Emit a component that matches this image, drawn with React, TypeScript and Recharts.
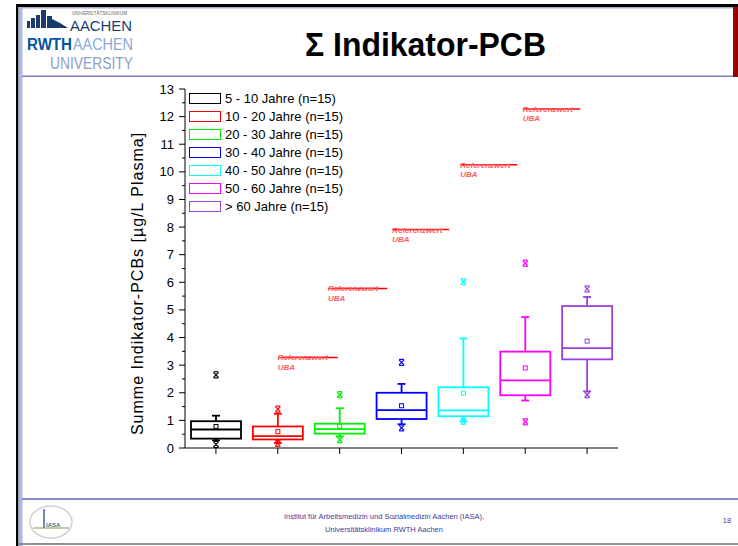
import React from "react";
import { ComposedChart, Bar, XAxis, YAxis, ReferenceLine, Legend } from "recharts";

// age groups, colours and box statistics (µg/L plasma)
const groups = [
  "5 - 10 Jahre (n=15)",
  "10 - 20 Jahre (n=15)",
  "20 - 30 Jahre (n=15)",
  "30 - 40 Jahre (n=15)",
  "40 - 50 Jahre (n=15)",
  "50 - 60 Jahre (n=15)",
  "> 60 Jahre (n=15)",
];
const positions = [1, 2, 3, 4, 5, 6, 7];
const colors = ["#000000", "#ff0000", "#00ee00", "#0000ff", "#00ffff", "#ff00ff", "#9a40dd"];
const q1 = [0.34, 0.31, 0.52, 1.05, 1.15, 1.91, 3.21];
const median = [0.67, 0.43, 0.68, 1.37, 1.36, 2.45, 3.62];
const q3 = [0.97, 0.78, 0.88, 2.0, 2.2, 3.49, 5.14];
const mean = [0.78, 0.59, 0.79, 1.53, 1.99, 2.9, 3.87];
const whiskerLow = [0.28, 0.18, 0.42, 0.86, 0.97, 1.72, 2.05];
const whiskerHigh = [1.17, 1.24, 1.44, 2.32, 3.97, 4.74, 5.47];
const lowMark = [0.13, 0.17, 0.3, 0.73, 0.97, 0.95, 1.93];
const highMark = [2.65, 1.41, 1.93, 3.1, 6.02, 6.69, 5.76];

// UBA reference values (hand-drawn annotations), x in group units
const refValue = [3.28, 5.78, 7.91, 10.26, 12.28];
const refStart = [2.0, 2.81, 3.85, 4.95, 5.96];
const refEnd = [2.97, 3.77, 4.77, 5.87, 6.89];

const yTicks = [0, 0.5, 1, 1.5, 2, 2.5, 3, 3.5, 4, 4.5, 5, 5.5, 6, 6.5, 7, 7.5, 8, 8.5, 9, 9.5, 10, 10.5, 11, 11.5, 12, 12.5, 13];

const FONT = "'Liberation Sans', Arial, sans-serif";

const data = groups.map((g, i) => ({
  group: g,
  pos: positions[i],
  range: [lowMark[i], highMark[i]],
  i,
}));

function Mark({ cx, cy, color }: { cx: number; cy: number; color: string }) {
  const s = 2.5;
  return (
    <g stroke={color} strokeWidth={1.2}>
      <line x1={cx - s} y1={cy - s} x2={cx + s} y2={cy + s} />
      <line x1={cx - s} y1={cy + s} x2={cx + s} y2={cy - s} />
      <line x1={cx - s} y1={cy - s - 0.5} x2={cx + s} y2={cy - s - 0.5} />
      <line x1={cx - s} y1={cy + s + 0.5} x2={cx + s} y2={cy + s + 0.5} />
    </g>
  );
}

function BoxShape(props: any) {
  const { x, y, width, height, payload } = props;
  const i = payload.i;
  const [lo, hi] = payload.range;
  const py = (v: number) => y + (height * (hi - v)) / (hi - lo);
  const cx = x + width / 2;
  const c = colors[i];
  const cap = 4;
  return (
    <g fill="none" stroke={c} strokeWidth={1.8}>
      <line x1={cx} y1={py(q3[i])} x2={cx} y2={py(whiskerHigh[i])} />
      <line x1={cx - cap} y1={py(whiskerHigh[i])} x2={cx + cap} y2={py(whiskerHigh[i])} />
      <line x1={cx} y1={py(q1[i])} x2={cx} y2={py(whiskerLow[i])} />
      <line x1={cx - cap} y1={py(whiskerLow[i])} x2={cx + cap} y2={py(whiskerLow[i])} />
      <rect x={x} y={py(q3[i])} width={width} height={py(q1[i]) - py(q3[i])} fill="#fff" />
      <line x1={x} y1={py(median[i])} x2={x + width} y2={py(median[i])} />
      <rect x={cx - 2} y={py(mean[i]) - 2} width={4} height={4} strokeWidth={1} />
      <Mark cx={cx} cy={py(highMark[i])} color={c} />
      <Mark cx={cx} cy={py(lowMark[i])} color={c} />
    </g>
  );
}

function YTick(props: any) {
  const { x, y, payload } = props;
  const axisX = x + 10;
  const major = Number.isInteger(payload.value);
  return (
    <g>
      <line x1={axisX - (major ? 6 : 3)} y1={y} x2={axisX} y2={y} stroke="#000" strokeWidth={1} />
      {major && (
        <text x={axisX - 11} y={y} dy={4.5} textAnchor="end" fontSize={13} fontFamily={FONT} fill="#000">
          {payload.value}
        </text>
      )}
    </g>
  );
}

function YLabel(props: any) {
  const { viewBox } = props;
  const cx = viewBox.x + 18;
  const cy = viewBox.y + viewBox.height / 2 + 15;
  return (
    <text
      x={cx}
      y={cy}
      transform={`rotate(-90 ${cx} ${cy})`}
      textAnchor="middle"
      fontSize={16}
      letterSpacing={1}
      fontFamily={FONT}
      fill="#000"
    >
      Summe Indikator-PCBs [µg/L Plasma]
    </text>
  );
}

function RefLabel(props: any) {
  const { viewBox } = props;
  const x = viewBox.x;
  const y = viewBox.y;
  return (
    <g fontFamily={FONT} fontSize={8} fontStyle="italic" fontWeight="bold" fill="#ff5c5c">
      <text x={x} y={y + 3}>Referenzwert</text>
      <text x={x} y={y + 12.5}>UBA</text>
    </g>
  );
}

function LegendBox() {
  return (
    <div style={{ fontFamily: FONT, fontSize: 13, color: "#000" }}>
      {groups.map((g, i) => (
        <div key={g} style={{ height: 18, display: "flex", alignItems: "center", whiteSpace: "nowrap" }}>
          <div
            style={{
              width: 30,
              height: 9,
              border: `1.7px solid ${colors[i]}`,
              background: "#fff",
              marginRight: 4,
            }}
          />
          <span>{g}</span>
        </div>
      ))}
    </div>
  );
}

function SlideFrame() {
  return (
    <svg width={738} height={546} style={{ position: "absolute", left: 0, top: 0 }}>
      <rect x={0} y={0} width={738} height={546} fill="#fff" />
      {/* frame */}
      <rect x={16} y={4} width={722} height={3} fill="#000" />
      <rect x={19} y={7} width={719} height={1.5} fill="#a8b0cc" />
      <rect x={16} y={4} width={2.5} height={542} fill="#000" />
      <rect x={18.5} y={7} width={4} height={539} fill="#a9bbe0" />
      <rect x={733} y={7} width={5} height={70} fill="#990000" />
      <rect x={22} y={75.5} width={711} height={1.5} fill="#7d7dc8" />
      <rect x={22} y={498} width={716} height={2} fill="#8a8ad0" />
      <rect x={18} y={543} width={720} height={2} fill="#8c8c8c" />

      {/* RWTH logo */}
      <g fill="#1c3b6c">
        <rect x={27} y={21} width={3} height={7} />
        <rect x={31} y={18} width={4} height={10} />
        <rect x={36} y={15} width={4} height={13} />
        <rect x={41} y={10} width={5} height={18} />
        <rect x={47} y={16} width={5} height={12} />
        <polygon points="52,19 60,23 68,28 52,28" />
      </g>
      <text x={72} y={15} fontSize={4.5} fill="#666" fontFamily={FONT} textLength={55} lengthAdjust="spacingAndGlyphs">
        UNIVERSITÄTSKLINIKUM
      </text>
      <text x={70} y={31} fontSize={14} fill="#1c3b6c" fontFamily={FONT} textLength={62} lengthAdjust="spacingAndGlyphs">
        AACHEN
      </text>
      <text x={27} y={50} fontSize={16} fontWeight="bold" fill="#00549f" fontFamily={FONT} textLength={45} lengthAdjust="spacingAndGlyphs">
        RWTH
      </text>
      <text x={73} y={50} fontSize={16} fill="#8aaad8" fontFamily={FONT} textLength={60} lengthAdjust="spacingAndGlyphs">
        AACHEN
      </text>
      <text x={50} y={69} fontSize={16} fill="#8aa0c8" fontFamily={FONT} textLength={83} lengthAdjust="spacingAndGlyphs">
        UNIVERSITY
      </text>

      {/* title */}
      <text x={305} y={56} fontSize={34} fontWeight="bold" fill="#000" fontFamily={FONT} textLength={241} lengthAdjust="spacingAndGlyphs">
        Σ Indikator-PCB
      </text>

      {/* IASA logo */}
      <ellipse cx={51} cy={522} rx={21} ry={16} fill="none" stroke="#d0d0d0" strokeWidth={1.5} />
      <line x1={44} y1={509} x2={44} y2={528} stroke="#3a6aa0" strokeWidth={1.5} />
      <text x={46} y={527} fontSize={6} fontWeight="bold" fill="#2e6a8e" fontFamily={FONT}>IASA</text>
      <line x1={33} y1={528} x2={69} y2={528} stroke="#7a9a60" strokeWidth={1} />

      {/* footer */}
      <g fontFamily={FONT} fontSize={7.5} fill="#3c3ca0" textAnchor="middle">
        <text x={384} y={519}>Institut für Arbeitsmedizin und Sozialmedizin Aachen (IASA),</text>
        <text x={384} y={532}>Universitätsklinikum RWTH Aachen</text>
      </g>
      <text x={727} y={523} fontSize={7.5} fill="#3c3ca0" fontFamily={FONT} textAnchor="middle">18</text>
    </svg>
  );
}

export default function App() {
  return (
    <div style={{ position: "absolute", left: 0, top: 0, width: 738, height: 546, overflow: "hidden", background: "#fff" }}>
      <SlideFrame />
      <div style={{ position: "absolute", left: 0, top: 0 }}>
        <ComposedChart width={738} height={546} data={data} margin={{ top: 89, right: 120, bottom: 68, left: 125 }}>
          <XAxis
            dataKey="group"
            type="category"
            interval={0}
            tickSize={6}
            tick={() => <g />}
            tickLine={{ stroke: "#000", strokeWidth: 1 }}
            axisLine={{ stroke: "#000", strokeWidth: 1 }}
            height={30}
          />
          <XAxis xAxisId="ref" dataKey="pos" type="number" domain={[0.5, 7.5]} allowDataOverflow hide />
          <YAxis
            type="number"
            domain={[0, 13]}
            ticks={yTicks}
            interval={0}
            allowDataOverflow
            width={60}
            tickSize={6}
            tickMargin={4}
            tickLine={false}
            tick={<YTick />}
            axisLine={{ stroke: "#000", strokeWidth: 1 }}
            label={<YLabel />}
          />
          <Legend
            layout="horizontal"
            verticalAlign="middle"
            align="center"
            wrapperStyle={{ left: 189, top: 89, width: "auto", height: "auto" }}
            content={() => <LegendBox />}
          />
          <Bar dataKey="range" barSize={50} shape={<BoxShape />} isAnimationActive={false} />
          {refValue.map((v, i) => (
            <ReferenceLine
              key={i}
              xAxisId="ref"
              segment={[
                { x: refStart[i], y: v },
                { x: refEnd[i], y: v },
              ]}
              stroke="#ff0000"
              strokeWidth={1.5}
              label={<RefLabel />}
            />
          ))}
        </ComposedChart>
      </div>
    </div>
  );
}
